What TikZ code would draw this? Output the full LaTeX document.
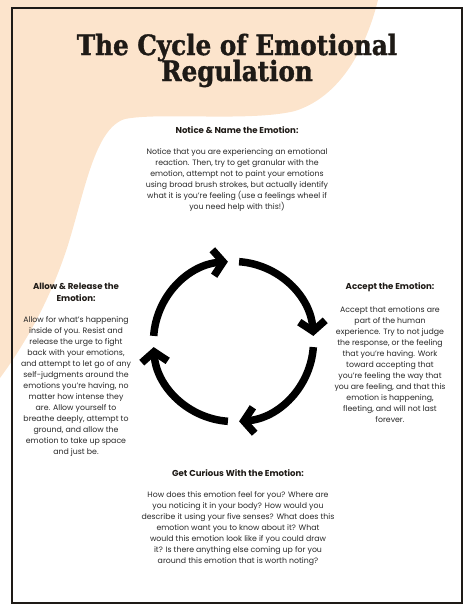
\documentclass[tikz,border=0pt]{standalone}
\usepackage{fontspec}
\setmainfont{Poppins}
\newfontfamily\titlefont[FakeStretch=0.88, FakeBold=1.2]{DejaVu Serif}
\usepackage{xcolor}
\usetikzlibrary{arrows.meta,positioning}
\definecolor{peach}{RGB}{252,228,204}
\definecolor{ink}{RGB}{30,26,22}
\definecolor{bodygray}{RGB}{40,40,40}

\begin{document}
\begin{tikzpicture}[x=1pt, y=-1pt, node distance=15pt, every node/.style={inner sep=0pt}]
        \tikzset{
            ttl/.style={font=\titlefont\bfseries\fontsize{28}{30}\selectfont, text=ink, anchor=base},
            hd/.style={font=\fontsize{8.6}{12}\selectfont\bfseries, text=ink, align=center},
            bd/.style={font=\fontsize{7.8}{11}\selectfont, text=bodygray, align=center},
            ring/.style={line width=7.5pt, draw=black, -{Straight Barb[length=10pt, width=26pt]}}
        }
        \useasboundingbox (0,0) rectangle (474,613);
        % peach blob behind the title
        \fill[peach] (0,0) -- (378,0) .. controls (368,40) and (345,95) .. (295,111)
            .. controls (250,122) and (160,112) .. (125,119)
            .. controls (95,128) and (85,190) .. (68,245)
            .. controls (52,295) and (28,340) .. (0,378) -- cycle;
        % frame
        \draw[ink, line width=2.6pt] (12,8) rectangle (462,603);
        \node[ttl] (t1) at (237,55) {The Cycle of Emotional};
        \node[ttl] (t2) at (237,81) {Regulation};
        % four steps
        \node[hd] (noticeh) at (237,130) {Notice \& Name the Emotion:};
        \node[bd, below=of noticeh] (notice) {Notice that you are experiencing an emotional\\
            reaction. Then, try to get granular with the\\
            emotion, attempt not to paint your emotions\\
            using broad brush strokes, but actually identify\\
            what it is you’re feeling (use a feelings wheel if\\
            you need help with this!)};
        \node[hd] (accepth) at (390,287) {Accept the Emotion:};
        \node[bd, below=of accepth] (accept) {Accept that emotions are\\
            part of the human\\
            experience. Try to not judge\\
            the response, or the feeling\\
            that you’re having. Work\\
            toward accepting that\\
            you’re feeling the way that\\
            you are feeling, and that this\\
            emotion is happening,\\
            fleeting, and will not last\\
            forever.};
        \node[hd] (curioush) at (238,473) {Get Curious With the Emotion:};
        \node[bd, below=of curioush] (curious) {How does this emotion feel for you? Where are\\
            you noticing it in your body? How would you\\
            describe it using your five senses? What does this\\
            emotion want you to know about it? What\\
            would this emotion look like if you could draw\\
            it? Is there anything else coming up for you\\
            around this emotion that is worth noting?};
        \node[hd] (allowh) at (76,292) {Allow \& Release the\\ Emotion:};
        \node[bd, below=of allowh] (allow) {Allow for what’s happening\\
            inside of you. Resist and\\
            release the urge to fight\\
            back with your emotions,\\
            and attempt to let go of any\\
            self-judgments around the\\
            emotions you’re having, no\\
            matter how intense they\\
            are. Allow yourself to\\
            breathe deeply, attempt to\\
            ground, and allow the\\
            emotion to take up space\\
            and just be.};
        % the cycle
        \coordinate (cyc) at (233.5,341.5);
        \foreach \a in {0,90,180,270}
            \draw[ring] (cyc) ++({\a+4}:80) arc[start angle=\a+4, end angle=\a+86, radius=80];
\end{tikzpicture}
\end{document}
